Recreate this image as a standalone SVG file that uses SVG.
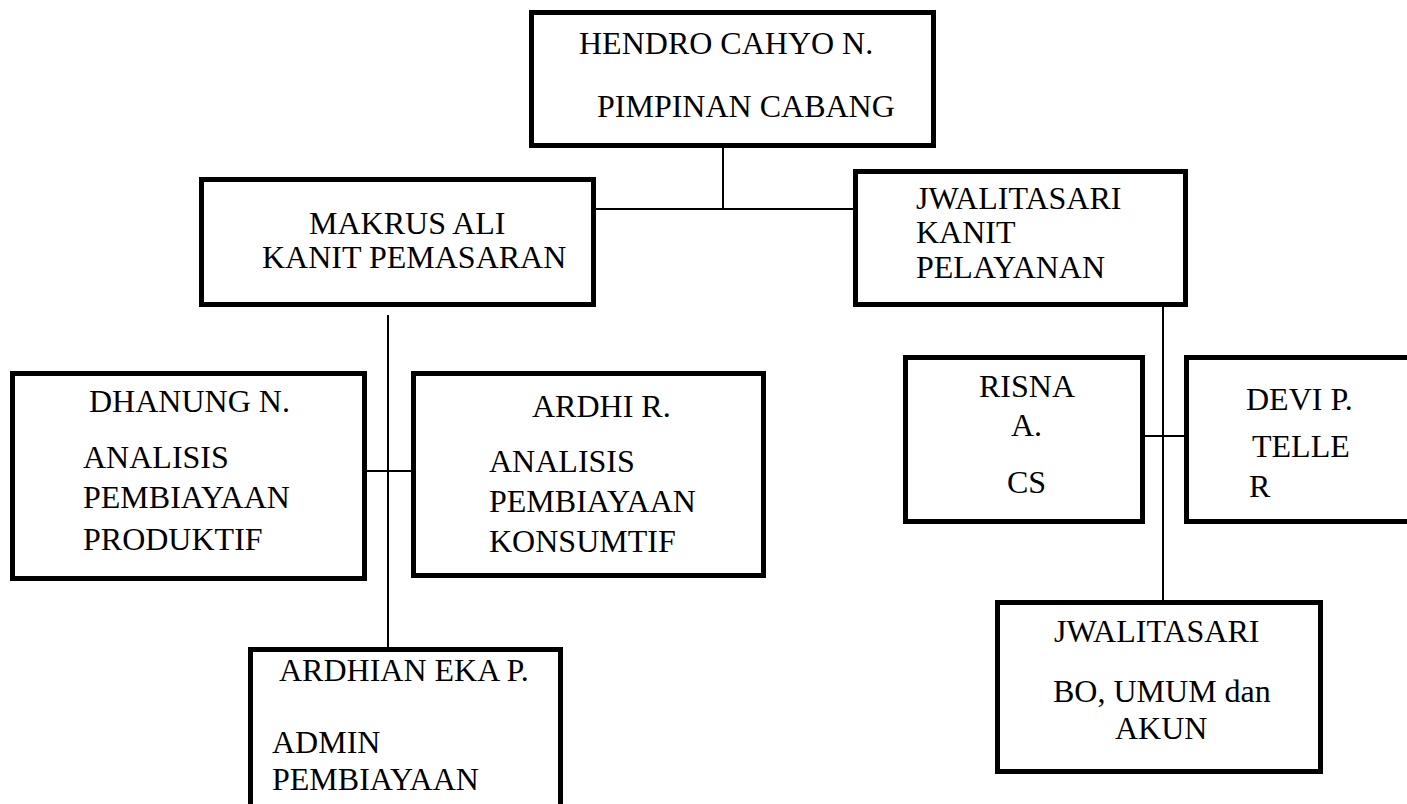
<svg xmlns="http://www.w3.org/2000/svg" width="1407" height="804" viewBox="0 0 1407 804">
<style>
.box{fill:#fff;stroke:#000;stroke-width:5}
.ln{stroke:#000;stroke-width:2;fill:none}
text{font-family:'Liberation Serif','Times New Roman',serif;font-size:32px;fill:#000}
</style>
<rect width="1407" height="804" fill="#fff"/>
<g id="connectors">
<line class="ln" x1="723" y1="148" x2="723" y2="209"/>
<line class="ln" x1="596" y1="209" x2="853" y2="209"/>
<line class="ln" x1="388" y1="315" x2="388" y2="647"/>
<line class="ln" x1="367" y1="471" x2="411" y2="471"/>
<line class="ln" x1="1163" y1="302" x2="1163" y2="600"/>
<line class="ln" x1="1145" y1="436" x2="1184" y2="436"/>
</g>
<g id="hendro">
<rect class="box" x="531.5" y="12.5" width="402" height="133"/>
<text x="579" y="54">HENDRO CAHYO N.</text>
<text x="597" y="117">PIMPINAN CABANG</text>
</g>
<g id="makrus">
<rect class="box" x="201.5" y="179.5" width="392" height="125"/>
<text x="309" y="234">MAKRUS ALI</text>
<text x="262" y="268">KANIT PEMASARAN</text>
</g>
<g id="jwalitasari-pelayanan">
<rect class="box" x="855.5" y="171.5" width="330" height="133"/>
<text x="916" y="209">JWALITASARI</text>
<text x="916" y="243">KANIT</text>
<text x="916" y="278">PELAYANAN</text>
</g>
<g id="dhanung">
<rect class="box" x="12.5" y="373.5" width="352" height="205"/>
<text x="89" y="412">DHANUNG N.</text>
<text x="83" y="468">ANALISIS</text>
<text x="83" y="508">PEMBIAYAAN</text>
<text x="83" y="550">PRODUKTIF</text>
</g>
<g id="ardhi">
<rect class="box" x="413.5" y="373.5" width="350" height="202"/>
<text x="532" y="417">ARDHI R.</text>
<text x="489" y="472">ANALISIS</text>
<text x="489" y="512">PEMBIAYAAN</text>
<text x="489" y="552">KONSUMTIF</text>
</g>
<g id="ardhian">
<rect class="box" x="250.5" y="649.5" width="310" height="170"/>
<text x="279" y="681">ARDHIAN EKA P.</text>
<text x="272" y="753">ADMIN</text>
<text x="272" y="790">PEMBIAYAAN</text>
</g>
<g id="risna">
<rect class="box" x="905.5" y="357.5" width="237" height="164"/>
<text x="979" y="397">RISNA</text>
<text x="1011" y="436">A.</text>
<text x="1007" y="493">CS</text>
</g>
<g id="devi">
<rect class="box" x="1186.5" y="357.5" width="240" height="164"/>
<text x="1246" y="410">DEVI P.</text>
<text x="1252" y="457">TELLE</text>
<text x="1249" y="497">R</text>
</g>
<g id="jwalitasari-bo">
<rect class="box" x="997.5" y="602.5" width="323" height="169"/>
<text x="1054" y="642">JWALITASARI</text>
<text x="1053" y="702">BO, UMUM dan</text>
<text x="1115" y="739">AKUN</text>
</g>
</svg>
